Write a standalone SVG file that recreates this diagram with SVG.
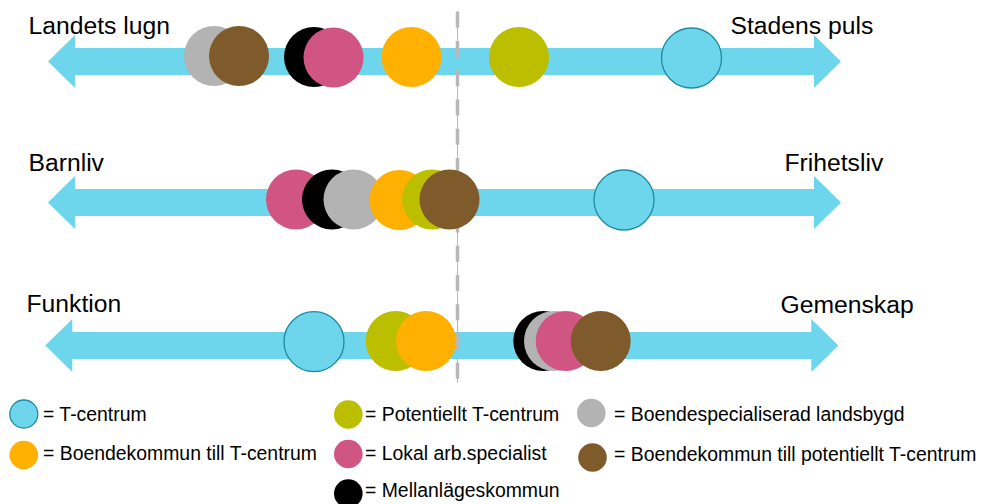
<svg xmlns="http://www.w3.org/2000/svg" width="981" height="504" viewBox="0 0 981 504">
<style>
text{font-family:"Liberation Sans",Arial,sans-serif;fill:#000}
.t{font-size:24.7px}
.l{font-size:19.4px}
.tc{fill:#6DD5EC;stroke:#1A8CA5;stroke-width:1.3}
.gy{fill:#B3B3B3}.br{fill:#7F5A2A}.bk{fill:#000}.pk{fill:#D05583}.or{fill:#FFB000}.ol{fill:#BCBE00}
.arr{fill:#6DD5EC}
</style>
<defs>
<path id="arrow" d="M0,0 L27,-26.5 L27,-13.5 L766,-13.5 L766,-26.5 L793,0 L766,26.5 L766,13.5 L27,13.5 L27,26.5 Z"/>
</defs>
<g id="connectors">
<use href="#arrow" class="arr" transform="translate(48,61.5)"/>
<use href="#arrow" class="arr" transform="translate(48,202.5)"/>
<use href="#arrow" class="arr" transform="translate(45.3,345.4)"/>
<line x1="457.5" y1="11" x2="457.5" y2="383" stroke="#6DD5EC" stroke-width="1"/>
<line x1="457.5" y1="11.7" x2="457.5" y2="379" stroke="#B8B8B8" stroke-width="3.5" stroke-dasharray="16 13.25"/>
</g>
<g id="labels">
<text class="t" x="28.5" y="33.5">Landets lugn</text>
<text class="t" x="730.5" y="33.5">Stadens puls</text>
<text class="t" x="28.5" y="170.7">Barnliv</text>
<text class="t" x="784.5" y="170.7">Frihetsliv</text>
<text class="t" x="26.5" y="312">Funktion</text>
<text class="t" x="780.5" y="313">Gemenskap</text>
</g>
<g id="row1">
<circle class="gy" cx="214" cy="56" r="30"/>
<circle class="br" cx="239" cy="56" r="30"/>
<circle class="bk" cx="314" cy="57" r="30"/>
<circle class="pk" cx="333.5" cy="57.5" r="30"/>
<circle class="or" cx="411.5" cy="57" r="30"/>
<circle class="ol" cx="519" cy="57" r="30"/>
<circle class="tc" cx="691.5" cy="58" r="30"/>
</g>
<g id="row2">
<circle class="pk" cx="296" cy="199.5" r="30"/>
<circle class="bk" cx="332" cy="199.5" r="30"/>
<circle class="gy" cx="353.5" cy="199.5" r="30"/>
<circle class="or" cx="399.5" cy="200" r="30"/>
<circle class="ol" cx="432" cy="199.5" r="30"/>
<circle class="br" cx="449.5" cy="199.5" r="30"/>
<circle class="tc" cx="624" cy="200" r="30"/>
</g>
<g id="row3">
<circle class="tc" cx="314" cy="341.7" r="30"/>
<circle class="ol" cx="395.7" cy="341" r="30"/>
<circle class="or" cx="426" cy="341" r="30"/>
<circle class="bk" cx="543.3" cy="341" r="30"/>
<circle class="gy" cx="554" cy="341" r="30"/>
<circle class="pk" cx="565.7" cy="341" r="30"/>
<circle class="br" cx="600.7" cy="341" r="30"/>
</g>
<g id="legend">
<g id="leg-tcentrum"><circle class="tc" cx="23.8" cy="414" r="14"/><text class="l" x="43" y="421">= T-centrum</text></g>
<g id="leg-boende-t"><circle class="or" cx="23.8" cy="455" r="14.3"/><text class="l" x="43" y="459.5">= Boendekommun till T-centrum</text></g>
<g id="leg-potentiellt"><circle class="ol" cx="348.3" cy="414.5" r="14.3"/><text class="l" x="365" y="421">= Potentiellt T-centrum</text></g>
<g id="leg-lokal"><circle class="pk" cx="348.3" cy="454" r="14.3"/><text class="l" x="365" y="459.5">= Lokal arb.specialist</text></g>
<g id="leg-mellan"><circle class="bk" cx="348.3" cy="493.5" r="14.3"/><text class="l" x="365" y="497">= Mellanlägeskommun</text></g>
<g id="leg-landsbygd"><circle class="gy" cx="591.3" cy="413" r="14.3"/><text class="l" x="614" y="421">= Boendespecialiserad landsbygd</text></g>
<g id="leg-boende-pot"><circle class="br" cx="592.5" cy="457.5" r="14.3"/><text class="l" x="614" y="461">= Boendekommun till potentiellt T-centrum</text></g>
</g>
</svg>
